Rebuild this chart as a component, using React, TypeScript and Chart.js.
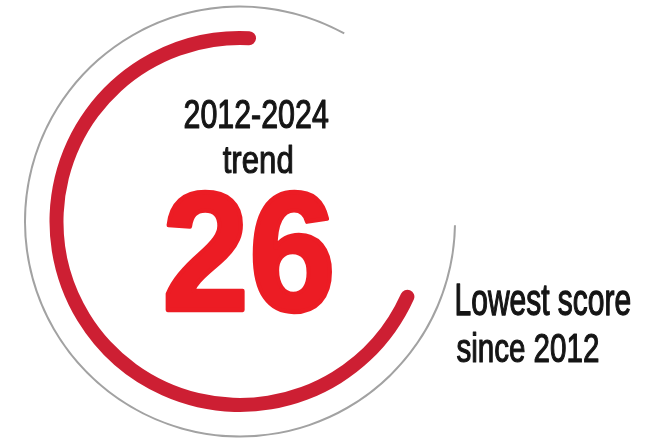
import React, { useEffect, useRef } from 'react';
import { Chart, registerables } from 'chart.js';

Chart.register(...registerables);

// ---- data ----
const segmentLabels = ['Arc', 'Gap'];
const outlineRing = [298, 62]; // degrees of the thin grey outline (drawn, gap)
const spacerRing = [1];
const trendRing = [253, 107]; // degrees of the red trend arc (drawn, gap)
const periodLabel = ['2012-2024', 'trend'];
const scoreLabel = '26';
const noteLabel = ['Lowest score', 'since 2012'];

const W = 656;
const H = 441;
const CX = 240;
const CY = 221.5;
const R = 216;

const FONT = "'Liberation Sans',Arial,Helvetica,sans-serif";

type Box = {
  text: string;
  left: number;
  right: number;
  top: number;
  base: number;
  color: string;
  weight: string;
  stroke: number;
};

function drawFitted(ctx: CanvasRenderingContext2D, b: Box) {
  ctx.save();
  ctx.font = `${b.weight} 100px ${FONT}`;
  ctx.textBaseline = 'alphabetic';
  ctx.textAlign = 'left';
  const m = ctx.measureText(b.text);
  const inkW = m.actualBoundingBoxLeft + m.actualBoundingBoxRight;
  const inkA = m.actualBoundingBoxAscent;
  const sx = (b.right - b.left) / inkW;
  const sy = (b.base - b.top) / inkA;
  ctx.translate(b.left, b.base);
  ctx.scale(sx, sy);
  ctx.fillStyle = b.color;
  ctx.fillText(b.text, m.actualBoundingBoxLeft, 0);
  if (b.stroke > 0) {
    ctx.strokeStyle = b.color;
    ctx.lineJoin = 'round';
    ctx.lineWidth = b.stroke / sx;
    ctx.strokeText(b.text, m.actualBoundingBoxLeft, 0);
  }
  ctx.restore();
}

const textPlugin = {
  id: 'centerTexts',
  afterDraw(chart: any) {
    const ctx = chart.ctx as CanvasRenderingContext2D;
    const boxes: Box[] = [
      { text: periodLabel[0], left: 185, right: 328, top: 100, base: 128, color: '#151515', weight: 'normal', stroke: 0.9 },
      { text: periodLabel[1], left: 223, right: 292, top: 145, base: 173, color: '#151515', weight: 'normal', stroke: 0.9 },
      { text: scoreLabel, left: 167, right: 330, top: 192, base: 310, color: '#ec1c24', weight: 'bold', stroke: 4 },
      { text: noteLabel[0], left: 457, right: 630, top: 285, base: 315, color: '#151515', weight: 'normal', stroke: 0.9 },
      { text: noteLabel[1], left: 457, right: 598, top: 333, base: 362, color: '#151515', weight: 'normal', stroke: 0.9 },
    ];
    boxes.forEach((b) => drawFitted(ctx, b));
  },
};

export default function App() {
  const ref = useRef<HTMLCanvasElement | null>(null);

  useEffect(() => {
    document.body.style.margin = '0';
    document.body.style.background = '#ffffff';
    const canvas = ref.current;
    if (!canvas) return;
    const chart = new Chart(canvas, {
      type: 'doughnut',
      data: {
        labels: segmentLabels,
        datasets: [
          {
            data: outlineRing,
            backgroundColor: ['#a2a2a2', 'rgba(0,0,0,0)'],
            weight: 2,
            rotation: 91,
            borderWidth: 0,
            hoverOffset: 0,
            hoverBorderWidth: 0,
          } as any,
          {
            data: spacerRing,
            backgroundColor: ['rgba(0,0,0,0)'],
            weight: 23.5,
            borderWidth: 0,
            hoverOffset: 0,
            hoverBorderWidth: 0,
          } as any,
          {
            data: trendRing,
            backgroundColor: ['#cd1f33', 'rgba(0,0,0,0)'],
            weight: 14,
            rotation: 112,
            borderWidth: 0,
            borderRadius: 7,
            hoverOffset: 0,
            hoverBorderWidth: 0,
          } as any,
        ],
      },
      options: {
        responsive: false,
        animation: false,
        events: [],
        cutout: 176.5,
        layout: {
          padding: {
            left: CX - R,
            top: CY - R,
            right: W - (CX + R),
            bottom: H - (CY + R),
          },
        },
        plugins: {
          legend: { display: false },
          tooltip: { enabled: false },
        },
      } as any,
      plugins: [textPlugin],
    });
    return () => chart.destroy();
  }, []);

  return (
    <div style={{ width: W, height: H, background: '#fff' }}>
      <canvas ref={ref} width={W} height={H} style={{ display: 'block', width: W, height: H }} />
    </div>
  );
}
